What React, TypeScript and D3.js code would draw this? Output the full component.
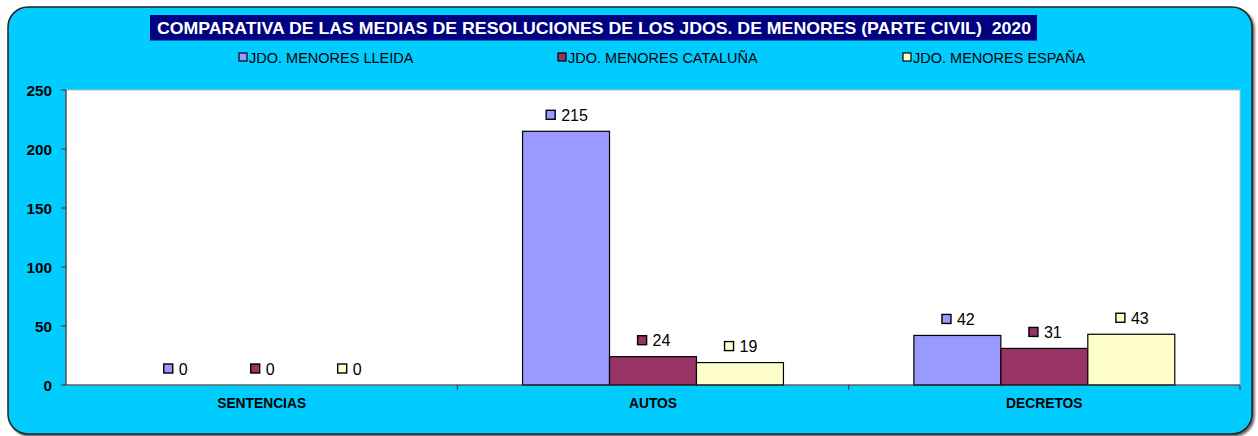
import React from "react";
import * as d3 from "d3";

const categories = ["SENTENCIAS", "AUTOS", "DECRETOS"];
const seriesNames = ["JDO. MENORES LLEIDA", "JDO. MENORES CATALUÑA", "JDO. MENORES ESPAÑA"];
const lleida = [0, 215, 42];
const cataluna = [0, 24, 31];
const espana = [0, 19, 43];
const yTicks = [0, 50, 100, 150, 200, 250];
const colors = ["#9999FF", "#993366", "#FFFFCC"];
const title = "COMPARATIVA DE LAS MEDIAS DE RESOLUCIONES DE LOS JDOS. DE MENORES (PARTE CIVIL)  2020";

export default function App() {
  const W = 1258, H = 436;
  const left = 66, right = 1240, top = 90, bottom = 385;
  const series = [lleida, cataluna, espana];
  const x0 = d3.scaleBand().domain(categories).range([left, right]).paddingInner(0).paddingOuter(0);
  const bw = x0.bandwidth();
  const groupW = bw / 1.5;
  const x1 = d3.scaleBand().domain(seriesNames).range([0, groupW]).padding(0);
  const y = d3.scaleLinear().domain([0, 250]).range([bottom, top]);
  const font = "Arial, 'Liberation Sans', sans-serif";
  const legendX = [239, 558, 903];

  return (
    <div style={{ position: "absolute", left: 0, top: 0 }}>
      <svg width={W} height={H} style={{ display: "block" }}>
        <defs>
          <filter id="sh" x="-5%" y="-5%" width="110%" height="110%">
            <feDropShadow dx="2" dy="2" stdDeviation="1" floodColor="#000" floodOpacity="0.6" />
          </filter>
        </defs>
        <rect x={8} y={7} width={1244} height={427} rx={20} ry={20} fill="#00CCFF" stroke="#222" strokeWidth={1.5} filter="url(#sh)" />
        <rect x={150} y={15} width={887} height={25.5} fill="#000080" />
        <text x={157} y={34} textLength={874} lengthAdjust="spacingAndGlyphs" fill="#fff" fontFamily={font} fontWeight="bold" fontSize={17} style={{ whiteSpace: "pre" }}>{title}</text>
        {seriesNames.map((s, i) => (
          <g key={s}>
            <rect x={legendX[i]} y={53} width={8} height={8} fill={colors[i]} stroke="#000" strokeWidth={1.2} />
            <text x={legendX[i] + 10} y={62.5} fontFamily={font} fontSize={14.5} fill="#000">{s}</text>
          </g>
        ))}
        <rect x={left} y={top} width={right - left} height={bottom - top} fill="#fff" stroke="#BBBBBB" strokeWidth={1} />
        {categories.map((c, ci) => {
          const gx = (x0(c) as number) + (bw - groupW) / 2;
          return (
            <g key={c}>
              {series.map((vals, si) => {
                const bx = gx + (x1(seriesNames[si]) as number);
                const v = vals[ci];
                const by = y(v);
                const cx = bx + x1.bandwidth() / 2;
                const label = String(v);
                const tw = label.length * 8.9;
                const totalW = 9 + 6 + tw;
                const sx = cx - totalW / 2 + 1;
                const ly = by - 16.5;
                return (
                  <g key={si}>
                    {v > 0 && (
                      <rect x={bx} y={by} width={x1.bandwidth()} height={bottom - by} fill={colors[si]} stroke="#000" strokeWidth={1.2} />
                    )}
                    <rect x={sx} y={ly - 4.5} width={9} height={9} fill={colors[si]} stroke="#000" strokeWidth={1.4} />
                    <text x={sx + 15} y={ly + 6} fontFamily={font} fontSize={16} fill="#000">{label}</text>
                  </g>
                );
              })}
            </g>
          );
        })}
        <line x1={left} x2={left} y1={top} y2={bottom} stroke="#333" strokeWidth={1.2} />
        <line x1={left} x2={right} y1={bottom} y2={bottom} stroke="#333" strokeWidth={1.2} />
        {yTicks.map((t) => (
          <g key={t}>
            <line x1={left - 5} x2={left} y1={y(t)} y2={y(t)} stroke="#333" strokeWidth={1} />
            <text x={52} y={y(t) + 5.5} textAnchor="end" fontFamily={font} fontWeight="bold" fontSize={15.3} fill="#000">{t}</text>
          </g>
        ))}
        {categories.map((c, i) => (
          <g key={c}>
            <line x1={(x0(c) as number) + bw} x2={(x0(c) as number) + bw} y1={bottom} y2={bottom + 5} stroke="#333" strokeWidth={1} />
            <text x={(x0(c) as number) + bw / 2} y={408} textAnchor="middle" fontFamily={font} fontWeight="bold" fontSize={13.8} fill="#000">{c}</text>
          </g>
        ))}
      </svg>
    </div>
  );
}
